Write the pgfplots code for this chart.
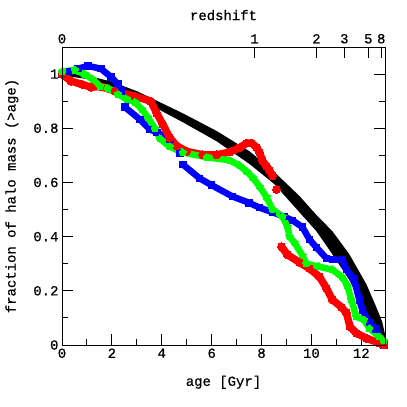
\documentclass[border=0pt]{standalone}
\usepackage{fontspec}
\setmainfont[FakeBold=0.6]{Liberation Mono}
\usepackage{pgfplots}
\pgfplotsset{compat=1.18}

\definecolor{pblue}{RGB}{0,0,255}
\definecolor{pred}{RGB}{255,0,0}
\definecolor{pgreen}{RGB}{0,255,0}

\pgfplotsset{
  frac/.style={
    scale only axis, width=323bp, height=298bp,
    xmin=0, xmax=12.95, ymin=0, ymax=1.1,
    tick align=inside,
    major tick length=11bp, minor tick length=6bp,
    tick style={black, line width=0.9pt},
    axis line style={line width=0.9pt},
    tick label style={font=\fontsize{14}{16}\selectfont},
    label style={font=\fontsize{14}{16}\selectfont},
  }
}

\begin{document}
\begin{tikzpicture}
\path (-62bp,-62bp) rectangle (345bp,345bp);
\begin{axis}[frac,
  at={(0,0)}, anchor=south west,
  xtick={0,2,4,6,8,10,12},
  xticklabels={0,2,4,6,8,10,12},
  minor x tick num=1,
  xtick pos=left,
  ytick={0,0.2,0.4,0.6,0.8,1},
  yticklabels={0,0.2,0.4,0.6,0.8,1},
  minor y tick num=1,
  ytick pos=both, yticklabel pos=left,
  xlabel={age [Gyr]},
  ylabel={fraction of halo mass (>age)},
  xlabel style={at={(axis description cs:0.5,-0.125)}, anchor=center},
  ylabel style={at={(axis description cs:-0.155,0.5)}, anchor=center},
  unbounded coords=jump,
  clip=false
]
% black band
\addplot[draw=none, fill=black] coordinates {
  (0,1.005) (1,0.995) (2,0.972) (3,0.937) (3.5,0.915) (4.85,0.855)
  (6.2,0.79) (7.52,0.715) (8.5,0.64) (9.52,0.55) (10.2,0.48) (10.84,0.42)
  (11.52,0.335) (12.2,0.225) (12.6,0.14) (12.84,0.085) (12.95,0.04)
  (12.95,0.0) (12.84,0.015) (12.5,0.06) (12.2,0.115) (11.52,0.24)
  (10.84,0.335) (10.2,0.42) (9.52,0.49) (8.5,0.595) (7.52,0.668)
  (6.2,0.752) (4.85,0.822) (3.5,0.888) (3,0.91) (2,0.953) (1,0.982) (0,0.995)
} -- cycle;
% blue
\addplot[pblue, line width=6.5pt, line join=round, mark=square*, mark size=3.3pt,
  mark options={line width=0pt}] coordinates {
  (0,1.0) (0.3,1.01) (0.64,1.02) (1.04,1.03) (1.56,1.02) (1.96,0.99)
  (2.24,0.963) (2.36,0.937) (2.4,nan)
  (2.52,0.878) (3.12,0.833) (3.52,0.796) (3.8,0.785) (4.32,0.759) (4.72,0.708)
  (4.76,nan)
  (4.84,0.667) (5.52,0.615) (6.0,0.59) (6.84,0.548) (7.5,0.525) (7.92,0.507)
  (8.44,0.49) (8.9,0.474) (9.24,0.46) (9.64,0.435) (9.92,0.39) (10.2,0.36)
  (10.6,0.32) (10.84,0.315) (11.24,0.315) (11.4,0.278) (11.7,0.245)
  (11.92,0.167) (12.04,0.13) (12.32,0.081) (12.6,0.06) (12.8,0.015) (12.9,0.0)
};
% red
\addplot[pred, line width=7.5pt, line join=round, mark=*, mark size=4pt,
  mark options={line width=0pt}] coordinates {
  (0,1.0) (0.36,0.974) (0.8,0.962) (1.16,0.952) (1.56,0.954) (2.12,0.937)
  (2.92,0.918) (3.56,0.9) (3.8,0.855) (4.04,0.815) (4.32,0.765) (4.6,0.735)
  (5.0,0.715) (5.64,0.702) (6.2,0.702) (6.72,0.712) (7.12,0.728) (7.4,0.745)
  (7.6,0.745) (7.8,0.73) (7.92,0.711) (8.04,0.68) (8.2,0.66) (8.32,0.645)
  (8.44,0.625) (8.5,nan) (8.6,0.574) (8.7,nan)
  (8.8,0.363) (9.04,0.333) (9.52,0.305) (9.92,0.282) (10.32,0.252)
  (10.6,0.21) (10.84,0.167) (11.2,0.14) (11.4,0.119) (11.55,0.067)
  (11.8,0.044) (12.2,0.025) (12.72,0.007) (12.9,0.0)
};
% green
\addplot[pgreen, line width=6.5pt, line join=round, mark=pentagon*, mark size=3.8pt,
  mark options={line width=0pt}] coordinates {
  (0,1.01) (0.52,1.015) (0.9,1.0) (1.24,0.98) (1.52,0.956) (1.84,0.948)
  (2.24,0.926) (2.6,0.907) (2.92,0.897) (3.2,0.87) (3.44,0.84) (3.72,0.8)
  (3.92,0.762) (4.32,0.732) (4.84,0.711) (5.8,0.693) (6.72,0.682)
  (7.12,0.662) (7.4,0.641) (7.64,0.619) (7.92,0.585) (8.2,0.546) (8.44,0.5)
  (8.84,0.474) (9.04,0.437) (9.12,0.4) (9.32,0.378) (9.64,0.33) (9.8,0.3)
  (10.3,0.289) (10.84,0.278) (11.24,0.25) (11.44,0.22) (11.6,0.167)
  (11.8,0.104) (12.1,0.093) (12.32,0.062) (12.72,0.03) (12.9,0.015)
};
\end{axis}
\begin{axis}[frac,
  at={(0,0)}, anchor=south west,
  xtick={0,7.72,10.2,11.32,12.28,12.8},
  xticklabels={0,1,2,3,5,8},
  xtick pos=right, xticklabel pos=right,
  minor x tick num=0,
  ytick=\empty,
  xlabel={redshift},
  xlabel style={at={(axis description cs:0.5,1.107)}, anchor=center}
]
\end{axis}
\end{tikzpicture}
\end{document}
